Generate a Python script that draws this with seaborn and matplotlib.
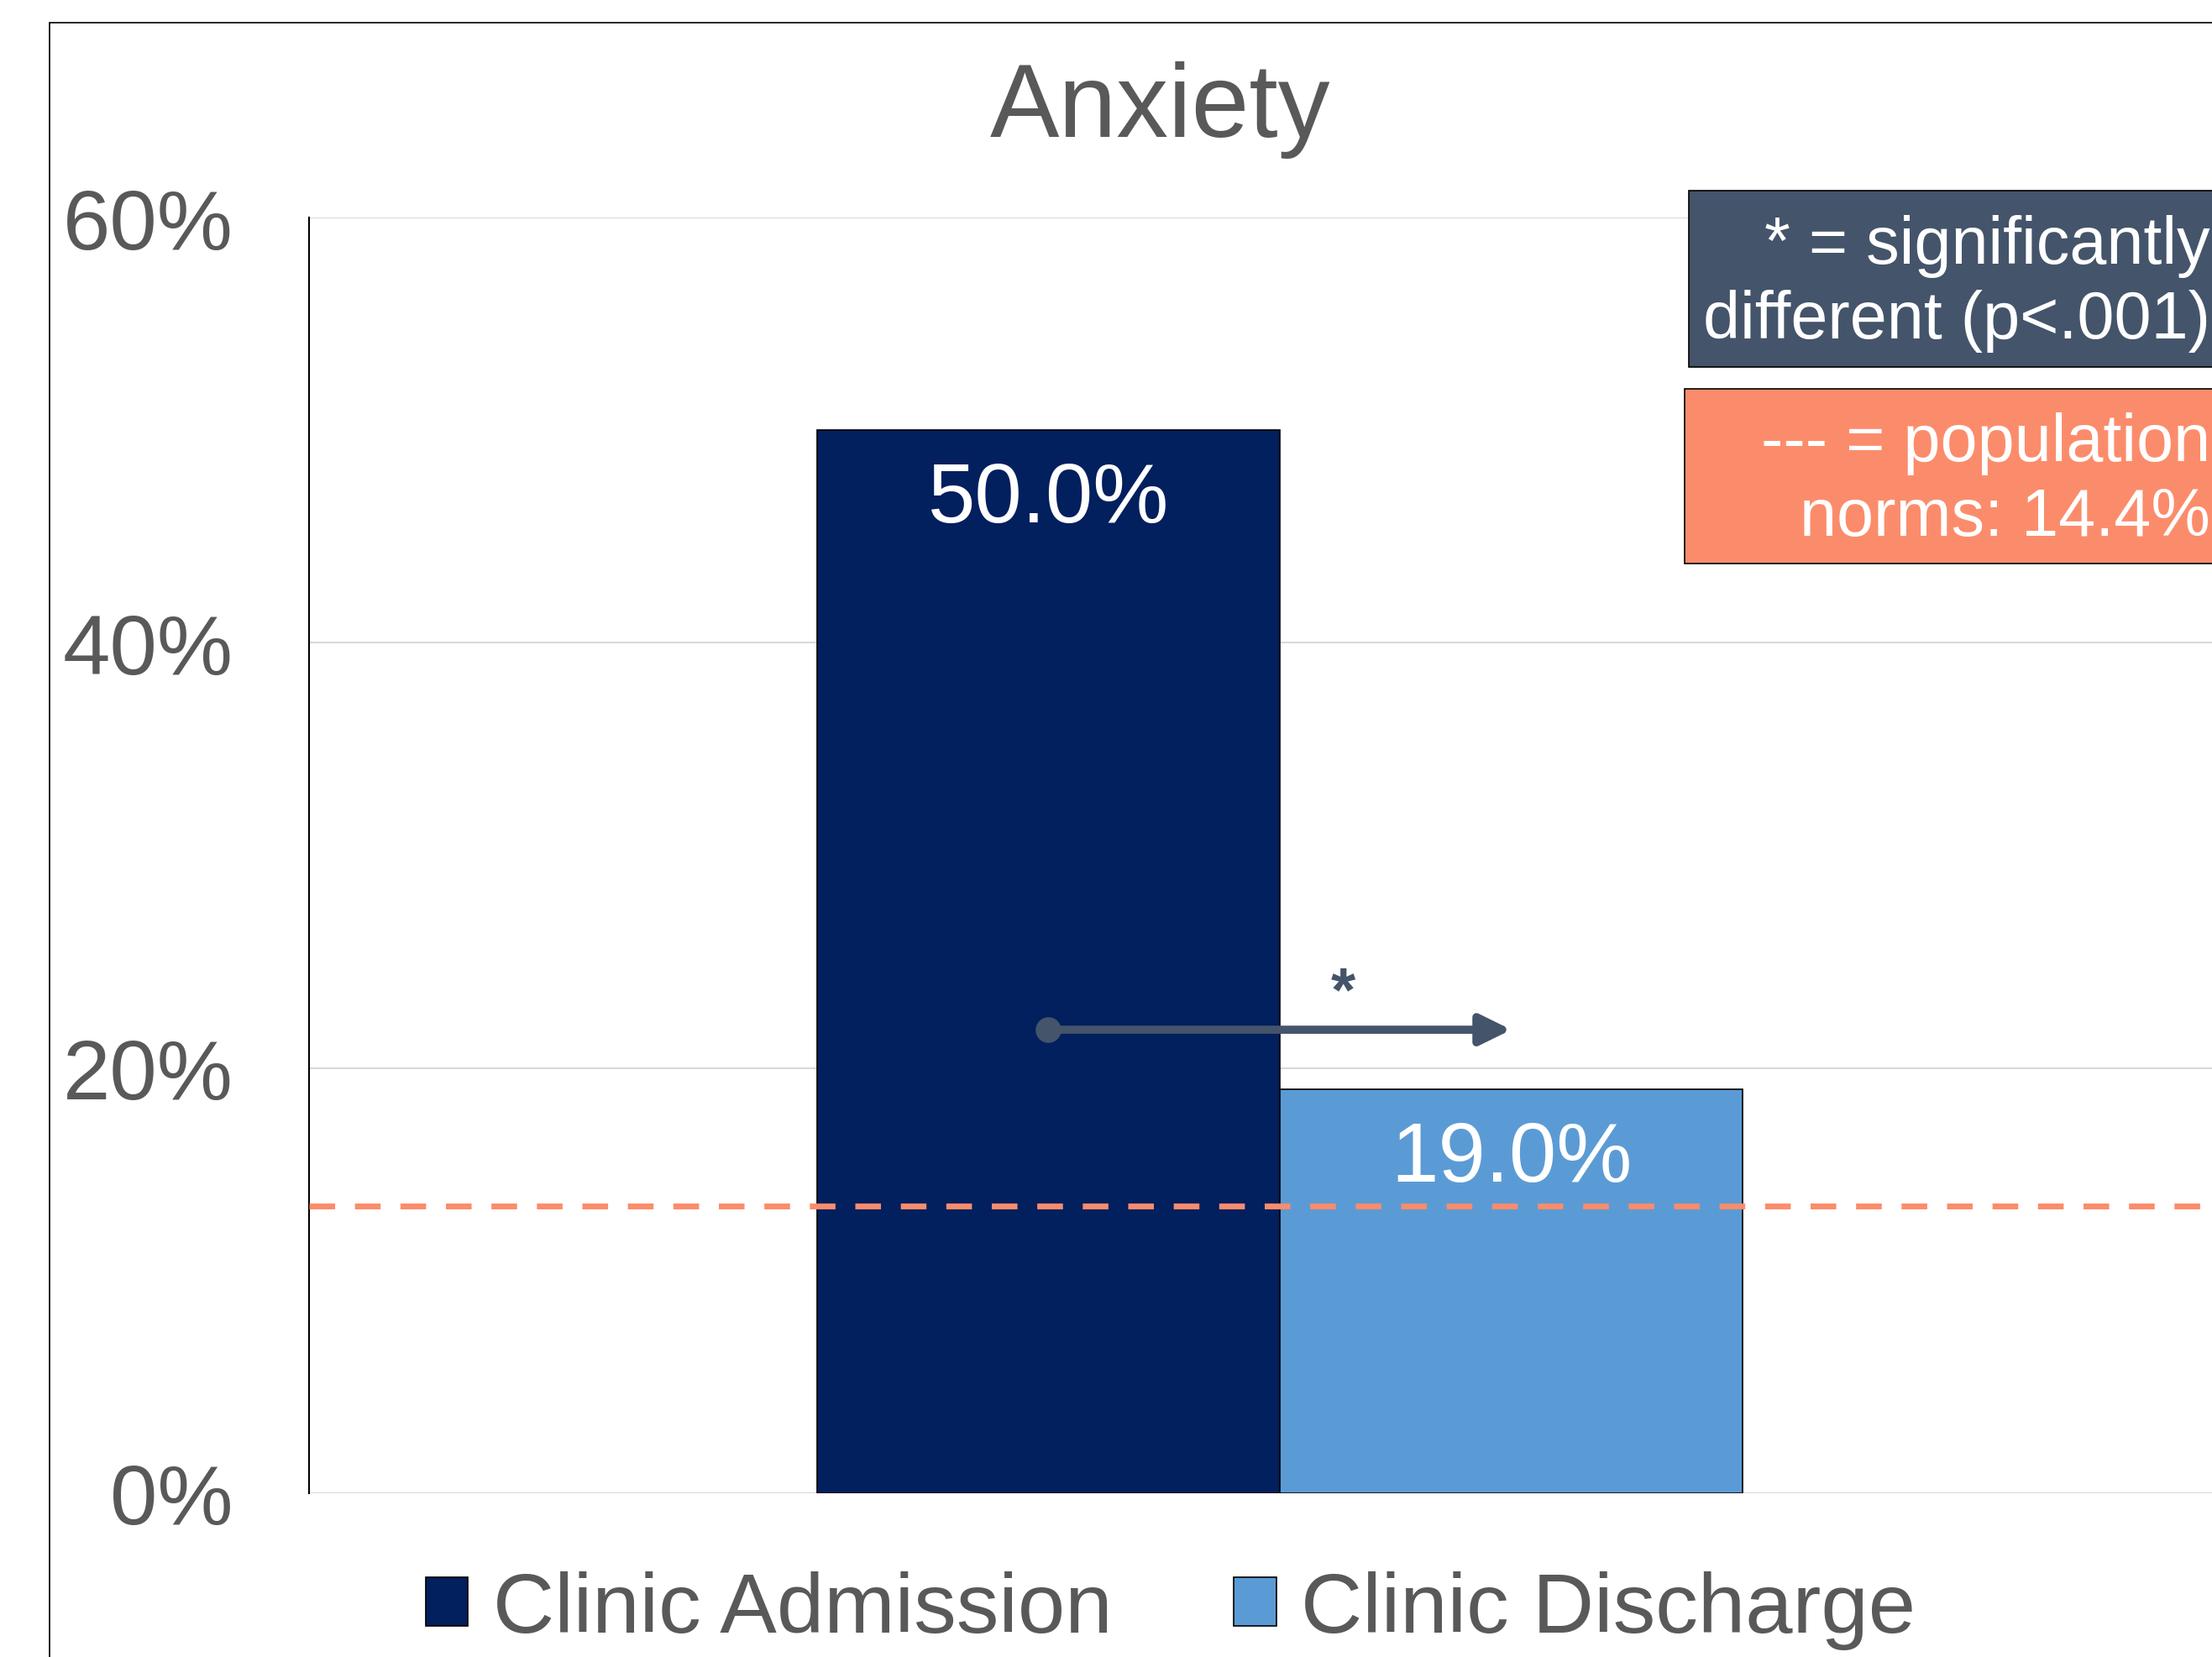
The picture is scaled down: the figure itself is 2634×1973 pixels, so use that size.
import pandas as pd
import seaborn as sns
import matplotlib.pyplot as plt
from matplotlib.patches import Rectangle, Patch

# Chart data
groups = ['Clinic Admission', 'Clinic Discharge']
values = [50.0, 19.0]
colors = ['#021F5E', '#5B9BD5']
category = 'Anxiety'
norm_line = 13.5          # where the dashed norm line sits on the picture
norm_text = '14.4%'
y_ticks = [0, 20, 40, 60]
arrow_y = 21.8

df = pd.DataFrame({'cat': [category] * 2, 'group': groups, 'pct': values})

sns.set_style("white")
plt.rcParams['font.family'] = ['Liberation Sans', 'DejaVu Sans']

W, H = 2634, 1974
fig = plt.figure(figsize=(W / 100, H / 100), dpi=100)

# Plot area (right edge runs past the picture, like the cropped original)
ax = fig.add_axes([368 / W, 1 - 1779 / H, 2312 / W, 1519 / H])
sns.barplot(data=df, x='cat', y='pct', hue='group', palette=colors,
            saturation=1, width=0.477, edgecolor='black', linewidth=1.2,
            ax=ax, zorder=3)
ax.legend_.remove()
ax.set_xlim(-0.5, 0.5)
ax.set_ylim(0, 60)
ax.set_yticks(y_ticks)
ax.set_yticklabels([f'{t}%' for t in y_ticks], fontsize=73, color='#595959')
ax.tick_params(axis='y', length=0, pad=65)
ax.set_xticks([])
ax.set_xlabel('')
ax.set_ylabel('')
ax.yaxis.grid(True, color='#D9D9D9', linewidth=1.5, zorder=0)
for s in ['top', 'right', 'bottom']:
    ax.spines[s].set_visible(False)
ax.spines['left'].set_color('black')
ax.spines['left'].set_linewidth(1.5)

# Value labels inside the bars
for bar, v in zip(ax.patches, values):
    cx = bar.get_x() + bar.get_width() / 2
    ax.text(cx, v - 4.3, f'{v:.1f}%', ha='center', va='baseline',
            fontsize=73, color='white', zorder=5)

# Population norm dashed line
ax.axhline(norm_line, color='#FB8C6B', linewidth=5, dashes=(4.4, 3.4), zorder=4)

# Significance arrow between bar centres
c0 = ax.patches[0].get_x() + ax.patches[0].get_width() / 2
c1 = ax.patches[1].get_x() + ax.patches[1].get_width() / 2
ax.annotate('', xy=(c1, arrow_y), xytext=(c0, arrow_y),
            arrowprops=dict(arrowstyle='-|>,head_length=2.2,head_width=1.08',
                            color='#44546A', linewidth=7, shrinkA=0, shrinkB=0),
            zorder=6)
ax.plot([c0], [arrow_y], 'o', color='#44546A', markersize=21, zorder=6)
ax.text(0.0325, 23.5, '*', ha='center', va='center', fontsize=54,
        fontweight='bold', color='#44546A', zorder=6)

# Title
fig.text(1382 / W, 1 - 163 / H, category, ha='center', va='baseline',
         fontsize=89, color='#595959')

# Outer chart frame
fig.patches.append(Rectangle((59 / W, -0.1), 1.2, 1.1 - 28 / H,
                             transform=fig.transFigure, fill=False,
                             edgecolor='black', linewidth=1.2))

# Note boxes
fig.patches.append(Rectangle((2011 / W, 1 - 438 / H), 700 / W, 210 / H,
                             transform=fig.transFigure, facecolor='#44546A',
                             edgecolor='black', linewidth=1.2, zorder=7))
fig.patches.append(Rectangle((2006 / W, 1 - 672 / H), 700 / W, 208 / H,
                             transform=fig.transFigure, facecolor='#FB8C6B',
                             edgecolor='black', linewidth=1.2, zorder=7))
box_lines = [('* = significantly', 314), ('different (p<.001)', 403),
             ('--- = population', 549), (f'norms: {norm_text}', 638)]
for txt, yb in box_lines:
    fig.text(2632 / W, 1 - yb / H, txt, ha='right', va='baseline',
             fontsize=57, color='white', zorder=8)

# Legend
handles = [Patch(facecolor=c, edgecolor='black', linewidth=1.2) for c in colors]
fig.legend(handles, groups, loc='center', bbox_to_anchor=(1394 / W, 1 - 1918 / H),
           ncol=2, frameon=False, fontsize=73, labelcolor='#595959',
           handlelength=0.5, handleheight=0.5, handletextpad=0.29,
           columnspacing=1.43)

plt.savefig('out.png', dpi=100)
plt.close()
